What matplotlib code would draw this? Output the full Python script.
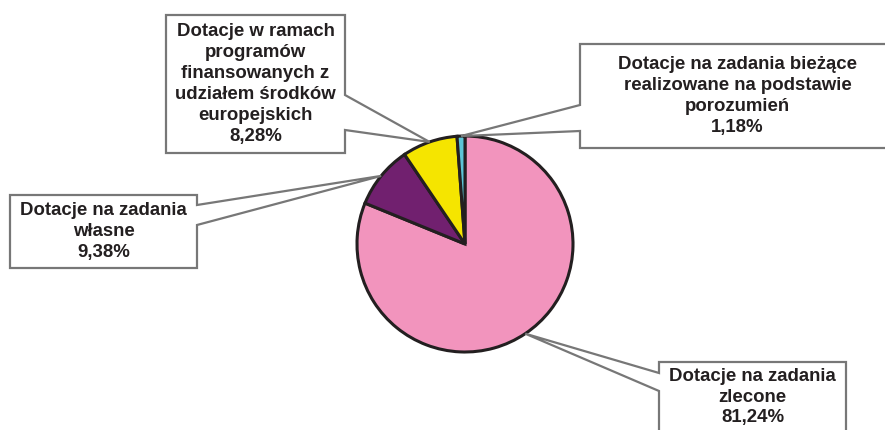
import numpy as np
import matplotlib.pyplot as plt
from matplotlib.patches import Polygon

# struktura dotacji (udział procentowy)
labels = [
    'Dotacje na zadania\nzlecone',
    'Dotacje na zadania\nwłasne',
    'Dotacje w ramach\nprogramów\nfinansowanych z\nudziałem środków\neuropejskich',
    'Dotacje na zadania bieżące\nrealizowane na podstawie\nporozumień',
]
shares = [81.24, 9.38, 8.28, 1.18]
colors = ['#F294BD', '#71206F', '#F5E500', '#5CC4D6']

W, H = 885, 430
CX, CY, R = 465, H - 244, 108

# ramki opisów: x0, x1, górna, dolna, strona wskaźnika, y wskaźnika (od góry obrazu)
boxes = [
    (659, 846, 362, 445, 'left', (373, 391)),
    (10, 197, 195, 268, 'right', (205, 225)),
    (166, 345, 15, 153, 'right', (95, 130)),
    (580, 895, 44, 148, 'left', (105, 131)),
]


def callout(ax, box, tip, text):
    x0, x1, top, bot, side, (p1, p2) = box
    top, bot, p1, p2 = H - top, H - bot, H - p1, H - p2
    if side == 'right':
        pts = [(x0, top), (x1, top), (x1, p1), tip, (x1, p2), (x1, bot), (x0, bot)]
    else:
        pts = [(x0, top), (x1, top), (x1, bot), (x0, bot), (x0, p2), tip, (x0, p1)]
    ax.add_patch(Polygon(pts, closed=True, facecolor='white', edgecolor='#777777',
                         linewidth=1.6, joinstyle='miter', zorder=3))
    ax.text((x0 + x1) / 2, (top + bot) / 2 if bot > 0 else H - 397, text,
            ha='center', va='center', multialignment='center',
            fontsize=13.4, fontweight='bold', family='Liberation Sans',
            color='#231F20', linespacing=1.3, zorder=4)


fig = plt.figure(figsize=(W / 100, H / 100), dpi=100)
ax = fig.add_axes([0, 0, 1, 1])

wedges, _ = ax.pie(shares, colors=colors, startangle=90, counterclock=False,
                   center=(CX, CY), radius=R,
                   wedgeprops=dict(edgecolor='#231F20', linewidth=2.2))
for w in wedges:
    w.set_zorder(2)

for w, box, lab, val in zip(wedges, boxes, labels, shares):
    mid = np.deg2rad((w.theta1 + w.theta2) / 2)
    tip = (CX + R * np.cos(mid), CY + R * np.sin(mid))
    pct = f'{val:.2f}%'.replace('.', ',')
    callout(ax, box, tip, f'{lab}\n{pct}')

ax.set_xlim(0, W)
ax.set_ylim(0, H)
ax.set_aspect('equal')
ax.axis('off')

fig.savefig('out.png', dpi=100, facecolor='white')
